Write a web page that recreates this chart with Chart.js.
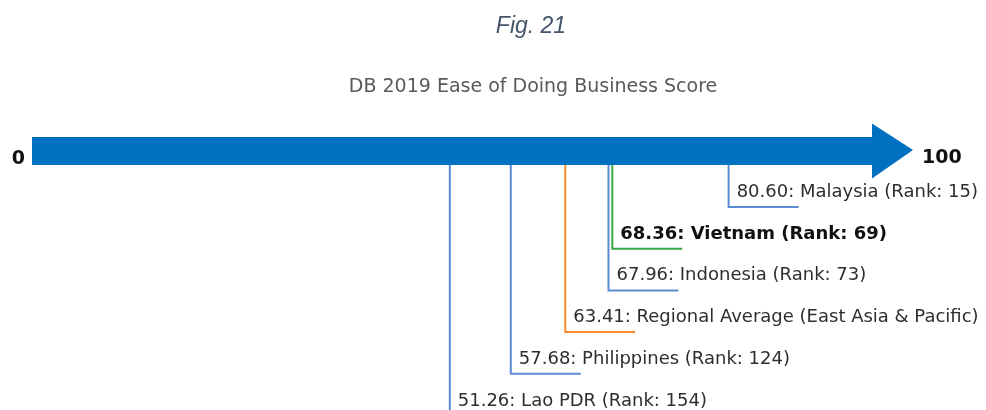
<!DOCTYPE html>
<html>
<head>
<meta charset="utf-8">
<script src="https://cdn.jsdelivr.net/npm/chart.js@4.4.1/dist/chart.umd.min.js"></script>
<style>
  html, body { margin: 0; padding: 0; background: #ffffff; }
  #wrap { width: 986px; height: 410px; position: relative; }
</style>
</head>
<body>
<div id="wrap"><canvas id="c" width="986" height="410"></canvas></div>
<script>
// ---- data ----
const names  = ["Malaysia", "Vietnam", "Indonesia", "Regional Average (East Asia & Pacific)", "Philippines", "Lao PDR"];
const scores = [80.60, 68.36, 67.96, 63.41, 57.68, 51.26];
const ranks  = [15, 69, 73, null, 124, 154];
const rows   = [1, 2, 3, 4, 5, 6];
const scaleEndLabels = ["0", "100"];
const figCaption = "Fig. 21";
const chartTitle = "DB 2019 Ease of Doing Business Score";

// ---- layout / style constants ----
const X_MIN = 7.3, X_MAX = 100;      // visible part of the 0..100 scale
const ARROW_LEVEL = -0.343;          // y level of the arrow
const Y_MIN = -3.964, Y_MAX = 5.868;
const TAIL = 7.36;                   // length of the underline, in score units
const lineColors = ["#5b8bd3", "#3aa84a", "#5b8bd3", "#ff8a2a", "#5b8bd3", "#5b8bd3"];
const highlight = 1;                 // Vietnam
const ARROW_COLOR = "#0070c0";

const datasets = scores.map((v, i) => ({
  label: names[i],
  data: [{x: v, y: ARROW_LEVEL}, {x: v, y: rows[i]}, {x: v + TAIL, y: rows[i]}],
  showLine: true,
  borderColor: lineColors[i],
  borderWidth: 2,
  pointRadius: 0,
  pointHoverRadius: 0,
  tension: 0,
  fill: false,
  clip: false
}));

const decor = {
  id: 'decor',
  afterDatasetsDraw(chart) {
    const ctx = chart.ctx;
    const xs = chart.scales.x, ys = chart.scales.y;
    const ay = ys.getPixelForValue(ARROW_LEVEL);
    const x0 = xs.getPixelForValue(X_MIN);
    const tip = xs.getPixelForValue(X_MAX);
    const headLen = 41, headHalf = 27.5, shaftHalf = 14;
    ctx.save();
    // arrow
    ctx.fillStyle = ARROW_COLOR;
    ctx.beginPath();
    ctx.moveTo(x0, ay - shaftHalf);
    ctx.lineTo(tip - headLen, ay - shaftHalf);
    ctx.lineTo(tip - headLen, ay - headHalf);
    ctx.lineTo(tip, ay - 1);
    ctx.lineTo(tip - headLen, ay + headHalf);
    ctx.lineTo(tip - headLen, ay + shaftHalf);
    ctx.lineTo(x0, ay + shaftHalf);
    ctx.closePath();
    ctx.fill();

    // end labels
    ctx.fillStyle = "#111111";
    ctx.font = "bold 19px 'DejaVu Sans'";
    ctx.textBaseline = "alphabetic";
    ctx.textAlign = "right";
    ctx.fillText(scaleEndLabels[0], x0 - 7, ay + 13);
    ctx.textAlign = "left";
    ctx.fillText(scaleEndLabels[1], tip + 9, ay + 12);

    // marker labels
    scores.forEach((v, i) => {
      const px = xs.getPixelForValue(v) + 8;
      const py = ys.getPixelForValue(rows[i]) - 10;
      let t = v.toFixed(2) + ": " + names[i];
      if (ranks[i] !== null) t += " (Rank: " + ranks[i] + ")";
      if (i === highlight) {
        ctx.font = "bold 18px 'DejaVu Sans'";
        ctx.fillStyle = "#111111";
      } else {
        ctx.font = "18px 'DejaVu Sans'";
        ctx.fillStyle = "#2e2e2e";
      }
      ctx.fillText(t, px, py);
    });

    // captions
    ctx.textAlign = "center";
    ctx.font = "italic 23px 'Liberation Sans'";
    ctx.fillStyle = "#44546a";
    ctx.fillText(figCaption, 531, 33);
    ctx.font = "19px 'DejaVu Sans'";
    ctx.fillStyle = "#595959";
    ctx.fillText(chartTitle, 533, 92);
    ctx.restore();
  }
};

new Chart(document.getElementById('c'), {
  type: 'scatter',
  data: { datasets },
  options: {
    responsive: false,
    animation: false,
    layout: { padding: { left: 32, right: 73, top: 0, bottom: 0 } },
    plugins: { legend: { display: false }, tooltip: { enabled: false }, title: { display: false } },
    scales: {
      x: { type: 'linear', min: X_MIN, max: X_MAX, display: false },
      y: { type: 'linear', min: Y_MIN, max: Y_MAX, reverse: true, display: false }
    }
  },
  plugins: [decor]
});
</script>
</body>
</html>
